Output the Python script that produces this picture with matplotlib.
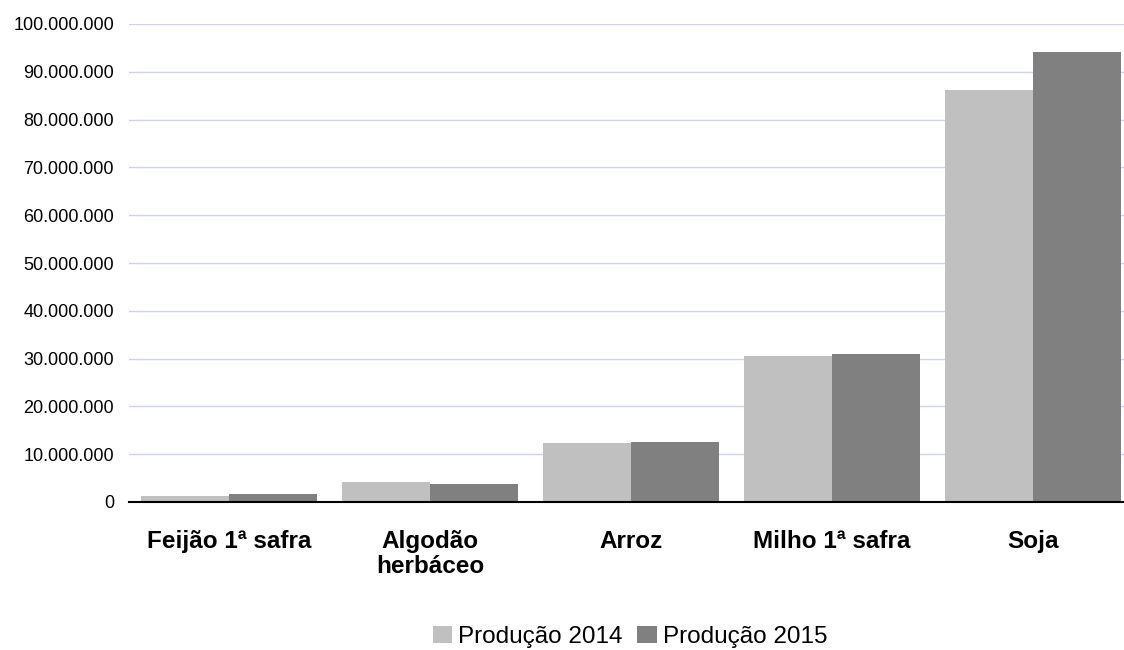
import matplotlib
matplotlib.use("Agg")
import matplotlib.pyplot as plt
import numpy as np
from matplotlib.ticker import FuncFormatter, MultipleLocator

categories = ["Feijão 1ª safra", "Algodão\nherbáceo", "Arroz", "Milho 1ª safra", "Soja"]
prod_2014 = [1.26e6, 4.18e6, 12.3e6, 30.5e6, 86.2e6]
prod_2015 = [1.67e6, 3.77e6, 12.5e6, 31.0e6, 94.1e6]
series_labels = ["Produção 2014", "Produção 2015"]

plt.rcParams['font.family'] = ['Liberation Sans', 'DejaVu Sans']

fig = plt.figure(figsize=(11.24, 6.5), dpi=100)
ax = fig.add_axes([128.5/1124, 148/650, 1005/1124, 478/650])

x = np.arange(len(categories))
w = 0.438
ax.bar(x - w/2, prod_2014, width=w, color="#C0C0C0", label=series_labels[0], zorder=3)
ax.bar(x + w/2, prod_2015, width=w, color="#808080", label=series_labels[1], zorder=3)

ax.set_xlim(-0.5, len(categories) - 0.5)
ax.set_ylim(0, 100e6)
ax.yaxis.set_major_locator(MultipleLocator(10e6))
ax.yaxis.set_major_formatter(FuncFormatter(lambda v, p: f"{int(round(v)):,}".replace(",", ".")))
ax.grid(axis="y", color="#D0D0FF", linewidth=1, zorder=0)
for s in ["top", "right", "left"]:
    ax.spines[s].set_visible(False)
ax.spines["bottom"].set_color("black")
ax.spines["bottom"].set_linewidth(1.5)
ax.spines["bottom"].set_zorder(4)
ax.tick_params(axis="y", length=0, labelsize=13, pad=10.5)
ax.tick_params(axis="x", length=0, pad=20)
ax.set_xticks(x)
ax.set_xticklabels(categories, fontsize=17.5, fontweight="bold", va="top", linespacing=1.12)

fig.legend(loc="center", bbox_to_anchor=(630/1124, 1 - 637/650), ncol=2, frameon=False,
           fontsize=17.5, handlelength=0.8, handleheight=0.7, handletextpad=0.25, columnspacing=0.6)

fig.savefig("out.png", dpi=100)
